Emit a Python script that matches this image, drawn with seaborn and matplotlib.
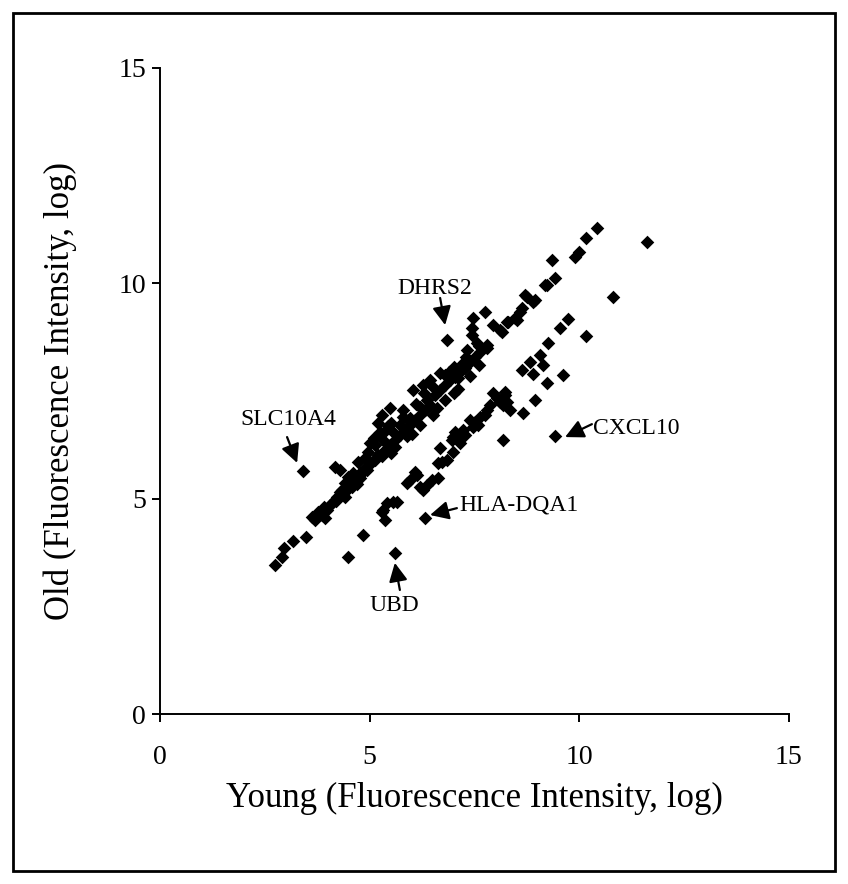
import matplotlib
matplotlib.use("Agg")
import matplotlib.pyplot as plt
import matplotlib.patches as patches
import seaborn as sns
import pandas as pd

# values (log fluorescence intensity)
young_upper = [2.74, 2.91, 2.96, 3.17, 3.48, 3.62, 3.77, 3.98, 4.10, 4.22, 4.34, 4.41, 4.48, 4.77, 4.94,
               3.41, 4.17, 4.29, 3.70, 3.86, 4.05, 4.17, 4.29, 3.94, 4.36, 4.58, 4.67, 4.77, 4.46,
               4.72, 5.01, 5.20, 5.29, 5.48, 5.79, 5.96, 6.20, 6.37,
               4.53, 4.77, 4.89, 5.06, 5.20, 5.37, 5.48, 5.60, 5.72, 5.84, 5.96, 6.08, 6.20, 6.32, 6.44,
               4.96, 5.13, 5.32, 5.56, 5.72, 5.91, 5.13, 5.25, 5.44,
               6.84, 7.44, 8.11, 7.32, 7.56, 7.80, 7.23, 6.99, 6.68, 6.44, 6.27, 6.03,
               6.56, 6.68, 6.80, 6.92, 7.04, 7.15, 7.27, 7.39, 7.51, 7.63, 7.11, 6.80,
               7.46, 7.75, 7.44, 7.94, 8.16, 8.30, 8.51, 8.59, 8.71, 8.94, 9.23, 9.42, 7.80,
               10.42, 10.16, 9.99, 9.90, 9.35, 9.18, 8.75, 8.63, 8.47, 8.28, 8.89,
               5.00, 5.30, 5.60, 5.90, 6.20, 6.50, 6.80, 7.10, 7.40,
               4.60, 5.10, 5.40, 5.80, 6.10, 6.50, 6.90, 7.30, 4.20, 3.90, 4.40,
               4.70, 5.50, 6.00, 6.60, 7.00, 7.60, 4.90, 5.50, 6.30, 7.00, 7.60]
old_upper = [3.46, 3.65, 3.85, 4.02, 4.11, 4.57, 4.69, 4.74, 4.90, 5.04, 5.20, 5.36, 5.50, 5.60, 5.67,
             5.64, 5.73, 5.66, 4.50, 4.62, 4.85, 4.97, 5.15, 4.55, 5.08, 5.27, 5.43, 5.48, 5.20,
             5.85, 6.29, 6.76, 6.94, 7.10, 7.06, 6.87, 7.13, 7.29,
             5.32, 5.55, 5.71, 5.85, 6.01, 6.13, 6.25, 6.36, 6.48, 6.59, 6.71, 6.83, 6.94, 7.06, 7.17,
             6.08, 6.25, 6.36, 6.55, 6.71, 6.83, 5.90, 6.55, 6.69,
             8.68, 8.80, 8.92, 8.45, 8.61, 8.57, 8.15, 7.92, 7.92, 7.75, 7.64, 7.52,
             7.41, 7.52, 7.64, 7.75, 7.82, 7.94, 8.03, 8.17, 8.29, 8.40, 7.80, 7.87,
             9.19, 9.33, 8.96, 9.03, 8.87, 9.10, 9.15, 9.33, 9.73, 9.61, 9.96, 10.12, 8.50,
             11.28, 11.05, 10.73, 10.61, 10.54, 9.96, 9.68, 9.43, 9.19, 9.10, 9.57,
             5.85, 6.00, 6.20, 6.45, 6.70, 6.95, 7.30, 7.55, 7.85,
             5.60, 6.40, 6.60, 6.90, 7.20, 7.60, 7.95, 8.30, 4.95, 4.80, 5.05,
             5.35, 6.05, 6.50, 7.10, 7.45, 8.10, 5.95, 6.75, 7.45, 8.05, 8.55]

young_lower = [11.61, 10.80, 9.73, 9.54, 10.16, 9.25, 9.06, 8.82, 9.13, 8.63, 8.89, 9.61, 9.23, 8.94, 8.66,
               8.23, 8.35, 8.28, 8.18, 9.42, 8.18,
               7.94, 8.23, 8.11, 7.80, 7.63, 7.46, 7.23, 7.04, 6.96, 7.15, 6.84, 6.68,
               7.39, 7.75, 7.87, 8.04, 7.51, 7.27, 7.11, 7.58, 6.99,
               6.99, 6.73, 6.63, 6.13, 5.89, 6.27, 5.56, 5.32, 5.37, 6.32, 4.84, 5.60, 4.48,
               5.96, 6.20, 6.63, 5.65, 5.41, 5.29, 6.08, 6.37, 6.49]
old_lower = [10.96, 9.68, 9.17, 8.96, 8.78, 8.61, 8.34, 8.17, 8.10, 7.99, 7.89, 7.87, 7.69, 7.29, 6.99,
             7.41, 7.06, 7.24, 7.17, 6.45, 6.36,
             7.45, 7.48, 7.24, 7.06, 6.90, 6.66, 6.59, 6.55, 6.36, 6.29, 5.90, 6.18,
             6.83, 6.94, 7.17, 7.34, 6.78, 6.48, 6.41, 6.71, 6.43,
             6.08, 5.85, 5.48, 5.55, 5.36, 5.20, 4.92, 4.74, 4.50, 4.55, 4.16, 3.74, 3.65,
             5.43, 5.27, 5.83, 4.92, 4.90, 4.69, 5.62, 5.32, 5.43]

genes = ["SLC10A4", "DHRS2", "CXCL10", "HLA-DQA1", "UBD"]
label_x = [3.05, 6.56, 10.33, 7.15, 5.60]
label_y = [6.83, 9.89, 6.64, 4.85, 2.53]
label_ha = ["center", "center", "left", "left", "center"]
arrow_from = [(3.03, 6.43), (6.68, 9.66), (10.30, 6.73), (7.08, 4.78), (5.72, 2.88)]
arrow_to = [(3.27, 5.83), (6.80, 9.03), (9.66, 6.43), (6.44, 4.62), (5.60, 3.51)]

df = pd.DataFrame({"young": young_upper + young_lower, "old": old_upper + old_lower})

sns.set_style("ticks")
plt.rcParams["font.family"] = ["Liberation Serif", "DejaVu Serif"]
plt.rcParams["text.color"] = "black"
plt.rcParams["axes.labelcolor"] = "black"
plt.rcParams["xtick.color"] = "black"
plt.rcParams["ytick.color"] = "black"

fig = plt.figure(figsize=(8.48, 8.84), dpi=100)
ax = fig.add_axes([0.1887, 0.1923, 0.7417, 0.7308])

sns.scatterplot(data=df, x="young", y="old", marker="D", color="black", s=48, linewidth=0, ax=ax)

for g, tx, ty, ha, a0, a1 in zip(genes, label_x, label_y, label_ha, arrow_from, arrow_to):
    ax.text(tx, ty, g, ha=ha, va="center", fontsize=17)
    ax.annotate("", xy=a1, xytext=a0,
                arrowprops=dict(arrowstyle="-|>", color="black", lw=1.6, mutation_scale=28,
                                shrinkA=0, shrinkB=0))

ax.set_xlim(0, 15)
ax.set_ylim(0, 15)
ax.set_xticks([0, 5, 10, 15])
ax.set_yticks([0, 5, 10, 15])
ax.tick_params(direction="out", length=6, width=1.4, labelsize=20, colors="black")
ax.tick_params(axis="x", pad=16)
ax.tick_params(axis="y", pad=4)
sns.despine(ax=ax)
for sp in ["left", "bottom"]:
    ax.spines[sp].set_linewidth(1.4)
    ax.spines[sp].set_color("black")

ax.set_xlabel("Young (Fluorescence Intensity, log)", fontsize=25, labelpad=9)
ax.set_ylabel("Old (Fluorescence Intensity, log)", fontsize=25, labelpad=30)

fig.patches.append(patches.Rectangle((13 / 848, 1 - 871 / 884), 822 / 848, 858 / 884,
                                     transform=fig.transFigure, fill=False,
                                     edgecolor="black", linewidth=2))

fig.savefig("out.png", dpi=100)
